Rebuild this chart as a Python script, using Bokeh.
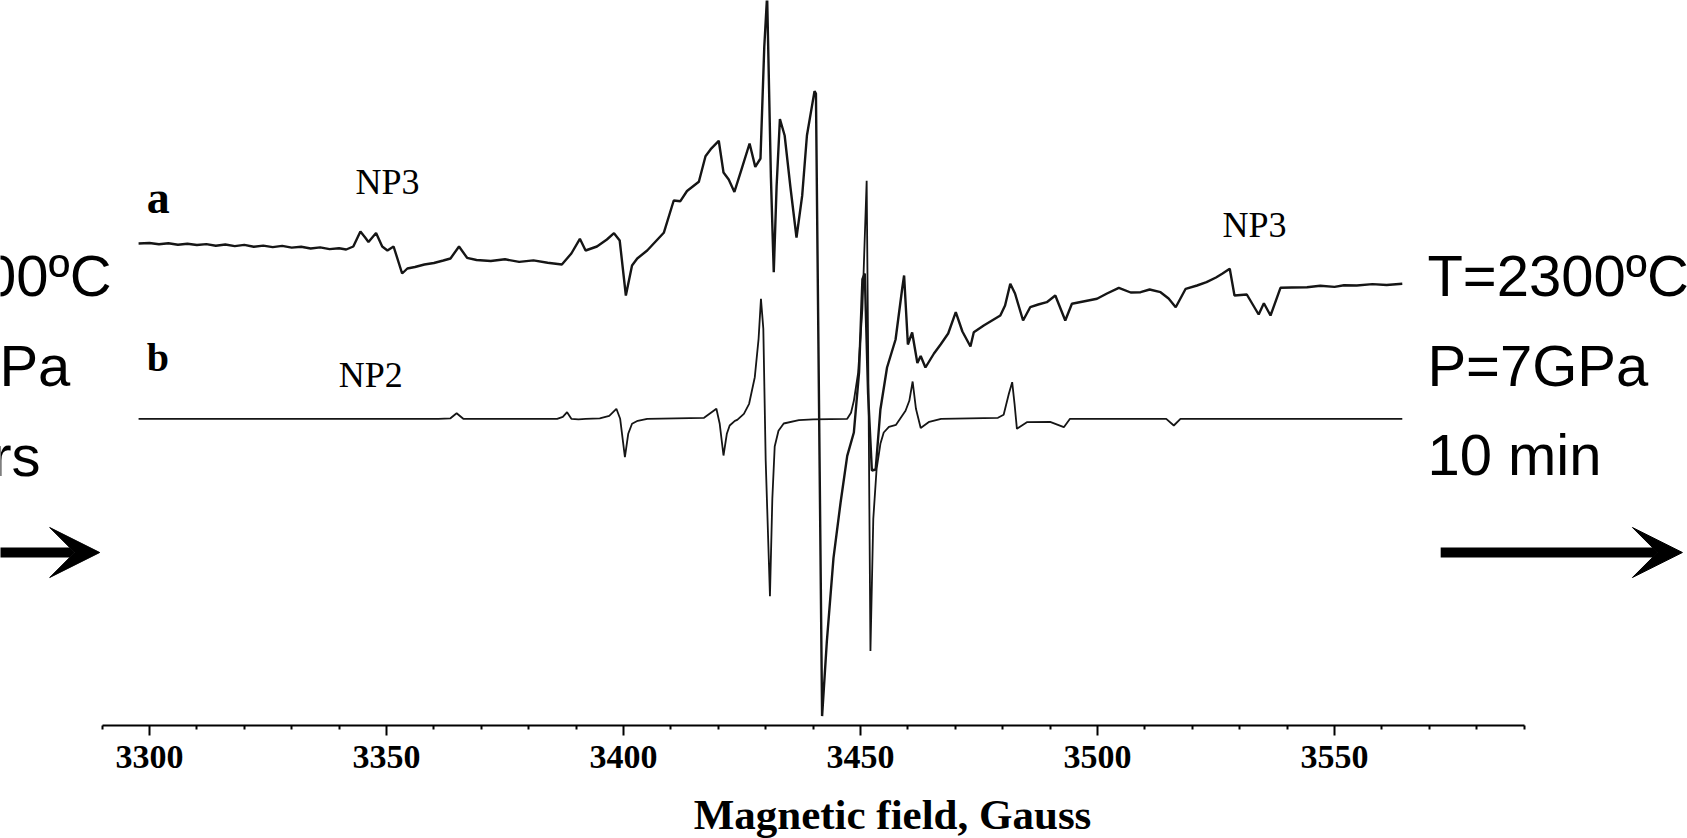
from bokeh.plotting import figure
from bokeh.models import Range1d, FixedTicker, Label, Arrow, VeeHead, ColumnDataSource
from bokeh.layouts import column
from bokeh.embed import file_html
from bokeh.resources import INLINE

# ---- data (magnetic field in Gauss, intensity in arbitrary units relative to each baseline) ----
field_a = [3297.7, 3300, 3302, 3304, 3306, 3308, 3310, 3312, 3314, 3316, 3318, 3320, 3322, 3324,
           3326, 3328, 3330, 3332, 3334, 3336, 3338, 3340, 3341.5, 3343, 3344.5, 3345.5, 3346.2,
           3347.8, 3349.1, 3350.2, 3351.5, 3353.3, 3354.4, 3356, 3358, 3360, 3362, 3363.5, 3365.3,
           3367, 3369, 3372, 3375, 3378, 3381, 3384, 3387, 3389, 3390.8, 3392, 3394.4, 3396.5,
           3398, 3399.2, 3400.5, 3401.8, 3402.9, 3405, 3408.5, 3410.6, 3412, 3413.4, 3415.9,
           3417.3, 3418.4, 3420.1, 3421.1, 3422.2, 3423.4, 3425, 3426.6, 3427.8, 3428.9, 3429.7,
           3430.3, 3431.1, 3431.7, 3432.3, 3433, 3434, 3435.2, 3436.5, 3437.7, 3438.7, 3440.3,
           3440.6, 3441.9, 3442.9, 3444.3, 3445.8, 3447.2, 3448.6, 3449.7, 3450.4, 3450.9, 3451.6,
           3452.4, 3453.2, 3454.2, 3455.6, 3457.4, 3458.8, 3459.2, 3460, 3460.9, 3462, 3462.7,
           3463.7, 3465.5, 3466.9, 3468.5, 3470.1, 3471.5, 3473.2, 3473.9, 3476, 3479.5, 3480.5,
           3481.6, 3482.6, 3484.3, 3485.8, 3487.5, 3489.3, 3491.1, 3493.2, 3494.6, 3497, 3499.9,
           3502, 3504.5, 3507, 3509.1, 3511, 3513.3, 3515, 3516.5, 3518.6, 3521, 3523, 3525,
           3526.3, 3527.9, 3528.9, 3531.5, 3534, 3535.1, 3536.5, 3538.6, 3541, 3544.2, 3547, 3550,
           3552, 3554.7, 3558, 3561, 3564.3]
signal_a = [0, 0.5, -0.8, 0.3, -1.2, -0.2, -1.5, -0.6, -2.2, -1, -2.6, -1.4, -3.2, -2.1,
            -3.6, -2.4, -4.1, -3.3, -5, -3.9, -5.6, -4.8, -6, -3, 12, 6, 1.5,
            10.5, -3, -7, -3, -30, -25, -23.5, -21, -19.5, -17, -15, -3,
            -14.3, -16.5, -17.5, -15.8, -18.4, -16.9, -19.2, -21, -10, 4.7, -7, -3, 4,
            10.3, 3, -52, -22, -15, -7, 10.7, 43, 42.3, 52.5, 61.8,
            87.3, 94.3, 102.7, 71, 64, 51.6, 75.7, 100, 76.6, 85, 196.5,
            248, 66.4, -28.8, 57, 124.5, 108, 57, 6, 47.8, 108, 152.4,
            150, -472.6, -398, -314.6, -259, -212.4, -189, -128.7, -35.8, -30, -150,
            -227, -226, -166, -124, -96, -45, -32, -101, -89, -119.5, -112.5,
            -124, -110, -101, -90, -68.7, -88, -103, -88.7, -82, -72, -62,
            -40.3, -50, -77, -63.7, -61, -58.7, -52, -77, -60.3, -58, -55.3,
            -50, -44.3, -49, -48.7, -46, -48.7, -55, -63.7, -45.3, -42, -38.7, -34,
            -30.3, -25.3, -52, -51, -71, -59.7, -72, -44.3, -44, -43.7, -42.2, -43.4,
            -41.8, -42, -40.6, -41.5, -40.3]

field_b = [3297.7, 3361, 3363.5, 3364.8, 3366.2, 3386, 3387.2, 3388.1, 3389, 3390.5, 3392, 3395,
           3397, 3398.5, 3399.3, 3400.3, 3401, 3401.8, 3403, 3405, 3417, 3419.6, 3420.3, 3421.1,
           3421.8, 3422.4, 3423.5, 3424, 3425.4, 3426.5, 3427.7, 3428.5, 3429, 3429.5, 3430,
           3430.9, 3431.4, 3431.9, 3432.7, 3433.8, 3437, 3440, 3447.2, 3448, 3448.6, 3449.5,
           3450.4, 3451.3, 3451.7, 3452.1, 3452.7, 3453.4, 3454.2, 3454.9, 3456, 3457.5, 3459.5,
           3460.3, 3461, 3461.7, 3462.7, 3464.5, 3467, 3479, 3480.2, 3481.3, 3482, 3482.5, 3483,
           3485.1, 3490, 3492.9, 3494.2, 3514.5, 3516.1, 3517.5, 3564.3]
signal_b = [0, 0, 0.5, 5.6, 0, 0, 2, 6.6, 0, -0.5, 0, 0.5,
            3, 10, 0, -38.4, -15, -5, -2, 0, 1, 10, -5, -36.7,
            -15, -6.7, -2, -1, 5, 15, 41.6, 80, 120, 90, -41.7,
            -177.4, -80, -27.7, -12, -4.7, -1.3, -0.5, 0, 6, 18, 46,
            110, 238, 20, -232.3, -100, -50, -25, -13.7, -8, -6, 8,
            18, 37.3, 10, -9.2, -3, 0, 1, 4, 25, 36.6, 15, -10,
            -3.4, -3, -8.4, 0, 0, -6.7, 0, 0]

offset_a = 482.0
offset_b = 306.7

major_ticks = [3300, 3350, 3400, 3450, 3500, 3550]
minor_ticks = [3290, 3310, 3320, 3330, 3340, 3360, 3370, 3380, 3390, 3410, 3420, 3430, 3440,
               3460, 3470, 3480, 3490, 3510, 3520, 3530, 3540, 3560, 3570, 3580, 3590]
axis_bounds = (3290, 3590)
x_title = "Magnetic field, Gauss"

SERIF = "'Liberation Serif', 'Times New Roman', serif"
SANS = "'Liberation Sans', Arial, sans-serif"

x_range = Range1d(3268.57, 3624.47)

p = figure(width=1687, height=785, output_backend="svg", toolbar_location=None,
           x_range=x_range, y_range=Range1d(0, 725),
           min_border_left=0, min_border_right=0, min_border_top=0, min_border_bottom=60,
           y_axis_location=None)
p.grid.visible = False
p.outline_line_color = None
p.background_fill_color = "white"
p.border_fill_color = "white"

src_a = ColumnDataSource(dict(x=field_a, y=[offset_a + v for v in signal_a]))
src_b = ColumnDataSource(dict(x=field_b, y=[offset_b + v for v in signal_b]))
p.line("x", "y", source=src_b, line_color="#151515", line_width=1.8)
p.line("x", "y", source=src_a, line_color="#151515", line_width=2.4)

ax = p.xaxis[0]
ax.bounds = axis_bounds
ax.ticker = FixedTicker(ticks=major_ticks, minor_ticks=minor_ticks)
ax.axis_line_color = "black"
ax.axis_line_width = 2
ax.major_tick_in = 0
ax.major_tick_out = 10
ax.minor_tick_in = 0
ax.minor_tick_out = 4
ax.major_tick_line_width = 2
ax.minor_tick_line_width = 2
ax.major_label_text_font = SERIF
ax.major_label_text_font_style = "bold"
ax.major_label_text_font_size = "34px"
ax.major_label_text_color = "black"
ax.major_label_standoff = 10

def add_text(fig, x, y, text, font, size, style="normal", align="left"):
    fig.add_layout(Label(x=x, y=y, text=text, text_font=font, text_font_size=size,
                         text_font_style=style, text_align=align, text_baseline="alphabetic",
                         text_color="black"))

add_text(p, 3299.4, 528, "a", SERIF, "46px", "bold")
add_text(p, 3299.4, 368, "b", SERIF, "40px", "bold")
add_text(p, 3350.2, 544, "NP3", SERIF, "36px", "normal", "center")
add_text(p, 3346.7, 351, "NP2", SERIF, "36px", "normal", "center")
add_text(p, 3533.1, 501, "NP3", SERIF, "36px", "normal", "center")

add_text(p, 3569.6, 450, "T=2300ºC", SANS, "58px")
add_text(p, 3569.6, 360, "P=7GPa", SANS, "58px")
add_text(p, 3569.6, 271, "10 min", SANS, "58px")

add_text(p, 3292.0, 450, "00ºC", SANS, "58px", "normal", "right")
add_text(p, 3283.3, 360, "Pa", SANS, "58px", "normal", "right")
add_text(p, 3277.0, 270, "rs", SANS, "58px", "normal", "right")

for xs, xe in [(3266.0, 3289.5), (3572.4, 3623.4)]:
    p.add_layout(Arrow(x_start=xs, y_start=173, x_end=xe, y_end=173, line_width=10,
                       line_color="black",
                       end=VeeHead(size=50, fill_color="black", line_color="black", line_width=1)))

# strip below the axis holding the axis title
q = figure(width=1687, height=53, output_backend="svg", toolbar_location=None,
           x_range=x_range, y_range=Range1d(0, 53),
           min_border_left=0, min_border_right=0, min_border_top=0, min_border_bottom=0,
           x_axis_location=None, y_axis_location=None)
q.grid.visible = False
q.outline_line_color = None
q.background_fill_color = "white"
q.border_fill_color = "white"
add_text(q, 3456.75, 24, x_title, SERIF, "43px", "bold", "center")

layout = column(p, q, spacing=0)
open("out.html", "w").write(file_html(layout, INLINE))
